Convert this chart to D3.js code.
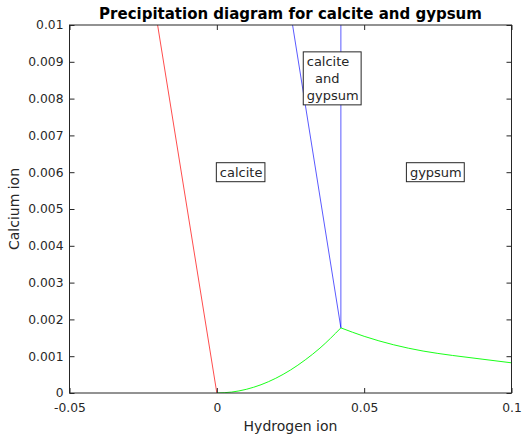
<!DOCTYPE html>
<html><head><meta charset="utf-8">
<script src="https://cdn.jsdelivr.net/npm/d3@7"></script>
<style>body{margin:0;background:#fff}svg{display:block}text{font-family:"DejaVu Sans",sans-serif}</style>
</head><body><svg id="c" width="524" height="435"></svg>
<script>
// ---- data ----
const xTicks = [-0.05, 0, 0.05, 0.1];
const xTickLabels = ["-0.05", "0", "0.05", "0.1"];
const yTicks = [0, 0.001, 0.002, 0.003, 0.004, 0.005, 0.006, 0.007, 0.008, 0.009, 0.01];
const yTickLabels = ["0", "0.001", "0.002", "0.003", "0.004", "0.005", "0.006", "0.007", "0.008", "0.009", "0.01"];
const redX = [0, -0.0201];
const redY = [0, 0.01];
const blueSlantX = [0.0421, 0.0257];
const blueSlantY = [0.00177, 0.01];
const blueVertX = [0.0421, 0.0421];
const blueVertY = [0.00177, 0.01];
const greenRiseX = [0, 0.005, 0.01, 0.015, 0.02, 0.025, 0.03, 0.035, 0.0421];
const greenRiseY = [0, 0.000025, 0.0001, 0.000225, 0.0004, 0.000625, 0.0009, 0.00122, 0.00177];
const greenFallX = [0.0421, 0.05, 0.06, 0.07, 0.08, 0.09, 0.1];
const greenFallY = [0.00177, 0.00154, 0.00131, 0.00114, 0.00102, 0.00092, 0.00082];
const labelText = [["calcite"], ["calcite", "  and", "gypsum"], ["gypsum"]];
const labelX = [0, 0.0295, 0.0645];
const labelY = [0.006, 0.00855, 0.006];

// ---- chart ----
const svg = d3.select("#c");
const L = 69.5, R = 511.5, T = 25, B = 393;
const x = d3.scaleLinear().domain([-0.05, 0.1]).range([L, R]);
const y = d3.scaleLinear().domain([0, 0.01]).range([B, T]);
const axisCol = "#262626";

svg.append("rect").attr("x", L).attr("y", T).attr("width", R - L).attr("height", B - T).attr("fill", "#fff");
svg.append("clipPath").attr("id", "clp").append("rect")
  .attr("x", L).attr("y", T).attr("width", R - L).attr("height", B - T);

const line = d3.line().x(d => x(d[0])).y(d => y(d[1]));
const curve = d3.line().x(d => x(d[0])).y(d => y(d[1])).curve(d3.curveMonotoneX);
const lines = svg.append("g").attr("clip-path", "url(#clp)");
const zip = (a, b) => a.map((v, i) => [v, b[i]]);
const draw = (d, col, op) => lines.append("path").attr("d", d).attr("stroke", col).attr("stroke-opacity", op)
  .attr("fill", "none").attr("stroke-width", 1);
draw(line(zip(redX, redY)), "#ff0000", 0.7);
draw(line(zip(blueSlantX, blueSlantY)), "#0000ff", 0.65);
draw(line(zip(blueVertX, blueVertY)), "#0000ff", 0.65);
draw(curve(zip(greenRiseX, greenRiseY)), "#00ff00", 0.9);
draw(curve(zip(greenFallX, greenFallY)), "#00ff00", 0.9);

// axes (MATLAB style: ticks inside, box on)
const tl = 5;
const xb = svg.append("g").attr("transform", `translate(0,${B})`)
  .call(d3.axisBottom(x).tickValues(xTicks).tickFormat((d, i) => xTickLabels[i]).tickSizeInner(-tl).tickSizeOuter(0).tickPadding(10));
const xt = svg.append("g").attr("transform", `translate(0,${T})`)
  .call(d3.axisTop(x).tickValues(xTicks).tickFormat("").tickSizeInner(-tl).tickSizeOuter(0));
const yl = svg.append("g").attr("transform", `translate(${L},0)`)
  .call(d3.axisLeft(y).tickValues(yTicks).tickFormat((d, i) => yTickLabels[i]).tickSizeInner(-tl).tickSizeOuter(0).tickPadding(6));
const yr = svg.append("g").attr("transform", `translate(${R},0)`)
  .call(d3.axisRight(y).tickValues(yTicks).tickFormat("").tickSizeInner(-tl).tickSizeOuter(0));
[xb, xt, yl, yr].forEach(g => {
  g.select(".domain").remove();
  g.selectAll("line").attr("stroke", axisCol);
  g.selectAll("text").attr("fill", axisCol).style("font-size", "12.3px").style("font-family", "DejaVu Sans");
});
svg.append("rect").attr("x", L).attr("y", T).attr("width", R - L).attr("height", B - T)
  .attr("fill", "none").attr("stroke", axisCol).attr("stroke-width", 1);

// boxed annotations
labelText.forEach((ls, i) => {
  const g = svg.append("g");
  const lh = 17;
  const cy = y(labelY[i]);
  const x0 = x(labelX[i]);
  const top = cy - (ls.length * lh) / 2;
  const t = g.append("text").attr("fill", axisCol).style("font-size", "13px");
  ls.forEach((s, j) => {
    t.append("tspan").attr("x", x0 + 3).attr("y", top + lh * j + lh / 2).attr("dy", "0.35em").style("white-space", "pre").text(s);
  });
  const bb = t.node().getBBox();
  g.insert("rect", "text").attr("x", x0 - 0.5).attr("y", top - 1).attr("width", bb.width + 6).attr("height", ls.length * lh + 2)
    .attr("fill", "#fff").attr("stroke", axisCol).attr("stroke-width", 1);
});

// titles
svg.append("text").attr("x", (L + R) / 2).attr("y", 19).attr("text-anchor", "middle")
  .style("font-size", "15px").style("font-weight", "bold").attr("fill", "#000").text("Precipitation diagram for calcite and gypsum");
svg.append("text").attr("x", (L + R) / 2).attr("y", 431).attr("text-anchor", "middle")
  .style("font-size", "14px").attr("fill", axisCol).text("Hydrogen ion");
svg.append("text").attr("transform", `translate(19,${(T + B) / 2}) rotate(-90)`).attr("text-anchor", "middle")
  .style("font-size", "14px").attr("fill", axisCol).text("Calcium ion");
</script></body></html>
